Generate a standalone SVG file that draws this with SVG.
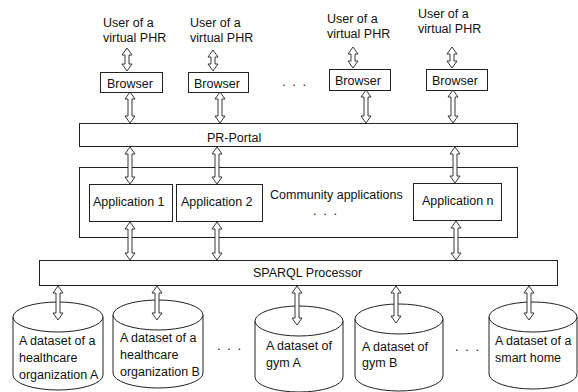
<svg xmlns="http://www.w3.org/2000/svg" width="578" height="392" viewBox="0 0 578 392">
  <style>
    .box { fill: #ffffff; stroke: #222222; stroke-width: 1; }
    .cyl { fill: #ffffff; stroke: #222222; stroke-width: 1; }
    .lbl { font-family: "Liberation Sans", Arial, sans-serif; font-size: 12.5px; fill: #111111; }
    .dots { font-family: "Liberation Sans", Arial, sans-serif; font-size: 13px; fill: #111111; letter-spacing: 1.5px; }
    .dbl { fill: #ffffff; stroke: #222222; stroke-width: 0.9; stroke-linejoin: miter; }
  </style>
  <rect width="578" height="392" fill="#ffffff"/>

  <!-- users -->
  <g id="user1"><text class="lbl" x="103" y="27">User of a</text><text class="lbl" x="103" y="42">virtual PHR</text></g>
  <g id="user2"><text class="lbl" x="190" y="27">User of a</text><text class="lbl" x="190" y="42">virtual PHR</text></g>
  <g id="user3"><text class="lbl" x="327" y="23">User of a</text><text class="lbl" x="327" y="38">virtual PHR</text></g>
  <g id="user4"><text class="lbl" x="418" y="18">User of a</text><text class="lbl" x="418" y="33">virtual PHR</text></g>

  <!-- browsers -->
  <g id="browser1"><rect class="box" x="100.5" y="72.5" width="62" height="20"/><text class="lbl" x="107" y="87.5">Browser</text></g>
  <g id="browser2"><rect class="box" x="188.5" y="72.5" width="60" height="20"/><text class="lbl" x="194" y="87.5">Browser</text></g>
  <g id="browser3"><rect class="box" x="329.5" y="69.5" width="61" height="21"/><text class="lbl" x="335" y="85">Browser</text></g>
  <g id="browser4"><rect class="box" x="426.5" y="69.5" width="61" height="21"/><text class="lbl" x="432" y="85">Browser</text></g>
  <text class="dots" x="282" y="86">. . .</text>

  <!-- portal -->
  <g id="portal"><rect class="box" x="79.5" y="123.5" width="438" height="23"/><text class="lbl" x="207" y="142">PR-Portal</text></g>

  <!-- community applications -->
  <g id="community">
    <rect class="box" x="79.5" y="167.5" width="438" height="70"/>
    <text class="lbl" x="270" y="199">Community applications</text>
    <text class="dots" x="313" y="215">. . .</text>
  </g>
  <g id="app1"><rect class="box" x="89.5" y="184.5" width="83" height="37"/><text class="lbl" x="93" y="206">Application 1</text></g>
  <g id="app2"><rect class="box" x="176.5" y="184.5" width="86" height="37"/><text class="lbl" x="181" y="206">Application 2</text></g>
  <g id="appn"><rect class="box" x="413.5" y="183.5" width="88" height="37"/><text class="lbl" x="422" y="205">Application n</text></g>

  <!-- SPARQL processor -->
  <g id="sparql"><rect class="box" x="39.5" y="260.5" width="518" height="25"/><text class="lbl" x="253" y="277">SPARQL Processor</text></g>

  <!-- datasets -->
  <g id="dataset1">
    <path class="cyl" d="M13,317 V375 A45,15 0 0 0 103,375 V317"/>
    <ellipse class="cyl" cx="58" cy="317" rx="45" ry="15"/>
    <text class="lbl" x="19" y="345">A dataset of a</text>
    <text class="lbl" x="19" y="362">healthcare</text>
    <text class="lbl" x="19" y="379">organization A</text>
  </g>
  <g id="dataset2">
    <path class="cyl" d="M113,315 V373 A45,15 0 0 0 203,373 V315"/>
    <ellipse class="cyl" cx="158" cy="315" rx="45" ry="15"/>
    <text class="lbl" x="120" y="342">A dataset of a</text>
    <text class="lbl" x="120" y="359">healthcare</text>
    <text class="lbl" x="120" y="376">organization B</text>
  </g>
  <text class="dots" x="217" y="350">. . .</text>
  <g id="dataset3">
    <path class="cyl" d="M255,321 V377 A44,15 0 0 0 343,377 V321"/>
    <ellipse class="cyl" cx="299" cy="321" rx="44" ry="15"/>
    <text class="lbl" x="266" y="350">A dataset of</text>
    <text class="lbl" x="266" y="367">gym A</text>
  </g>
  <g id="dataset4">
    <path class="cyl" d="M355,319 V376 A44,15 0 0 0 443,376 V319"/>
    <ellipse class="cyl" cx="399" cy="319" rx="44" ry="15"/>
    <text class="lbl" x="362" y="351">A dataset of</text>
    <text class="lbl" x="362" y="367">gym B</text>
  </g>
  <text class="dots" x="455" y="351">. . .</text>
  <g id="dataset5">
    <path class="cyl" d="M489,317 V374 A44,15 0 0 0 577,374 V317"/>
    <ellipse class="cyl" cx="533" cy="317" rx="44" ry="15"/>
    <text class="lbl" x="495" y="345">A dataset of a</text>
    <text class="lbl" x="495" y="362">smart home</text>
  </g>

  <!-- two-way hollow arrows: tip at y1, shaft, tip at y2 -->
  <g id="connectors">
    <path class="dbl" d="M127,48 l5,7 h-3 V64 h3 l-5,7 l-5,-7 h3 V55 h-3 z"/>
    <path class="dbl" d="M213,50 l5,7 h-3 V64 h3 l-5,7 l-5,-7 h3 V57 h-3 z"/>
    <path class="dbl" d="M353,47 l5,7 h-3 V61 h3 l-5,7 l-5,-7 h3 V54 h-3 z"/>
    <path class="dbl" d="M452,47 l5,7 h-3 V61 h3 l-5,7 l-5,-7 h3 V54 h-3 z"/>

    <path class="dbl" d="M130,92 l5,7 h-3 V116 h3 l-5,7 l-5,-7 h3 V99 h-3 z"/>
    <path class="dbl" d="M220,92 l5,7 h-3 V116 h3 l-5,7 l-5,-7 h3 V99 h-3 z"/>
    <path class="dbl" d="M366,90 l5,7 h-3 V116 h3 l-5,7 l-5,-7 h3 V97 h-3 z"/>
    <path class="dbl" d="M453,90 l5,7 h-3 V116 h3 l-5,7 l-5,-7 h3 V97 h-3 z"/>

    <path class="dbl" d="M130,147 l5,7 h-3 V177 h3 l-5,7 l-5,-7 h3 V154 h-3 z"/>
    <path class="dbl" d="M217,147 l5,7 h-3 V177 h3 l-5,7 l-5,-7 h3 V154 h-3 z"/>
    <path class="dbl" d="M455,147 l5,7 h-3 V176 h3 l-5,7 l-5,-7 h3 V154 h-3 z"/>

    <path class="dbl" d="M130,222 l5,7 h-3 V253 h3 l-5,7 l-5,-7 h3 V229 h-3 z"/>
    <path class="dbl" d="M217,222 l5,7 h-3 V253 h3 l-5,7 l-5,-7 h3 V229 h-3 z"/>
    <path class="dbl" d="M456,221 l5,7 h-3 V253 h3 l-5,7 l-5,-7 h3 V228 h-3 z"/>

    <path class="dbl" d="M58,286 l5,7 h-3 V313 h3 l-5,7 l-5,-7 h3 V293 h-3 z"/>
    <path class="dbl" d="M157,286 l5,7 h-3 V313 h3 l-5,7 l-5,-7 h3 V293 h-3 z"/>
    <path class="dbl" d="M297,286 l5,7 h-3 V318 h3 l-5,7 l-5,-7 h3 V293 h-3 z"/>
    <path class="dbl" d="M396,286 l5,7 h-3 V316 h3 l-5,7 l-5,-7 h3 V293 h-3 z"/>
    <path class="dbl" d="M529,286 l5,7 h-3 V313 h3 l-5,7 l-5,-7 h3 V293 h-3 z"/>
  </g>
</svg>
